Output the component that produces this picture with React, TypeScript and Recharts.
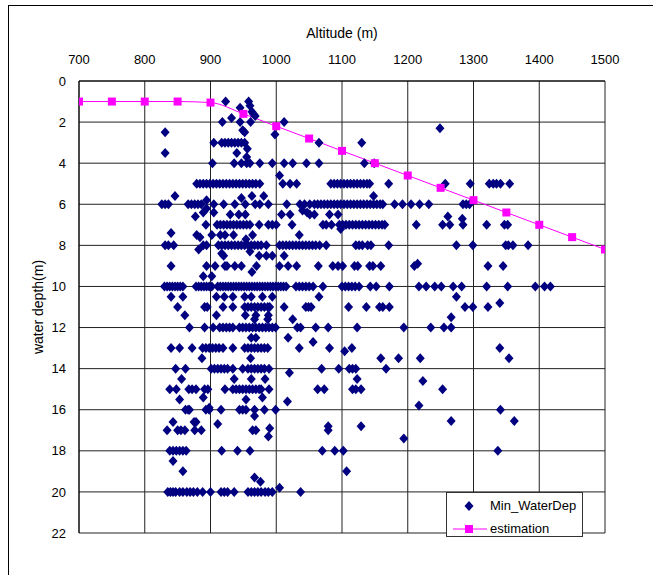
import React from 'react';
import { ComposedChart, Scatter, Line, XAxis, YAxis, CartesianGrid } from 'recharts';

// axis ticks
const xTicks = [700, 800, 900, 1000, 1100, 1200, 1300, 1400, 1500];
const yTicks = [0, 2, 4, 6, 8, 10, 12, 14, 16, 18, 20, 22];

// estimation curve
const estAltitude = [700, 750, 800, 850, 900, 950, 1000, 1050, 1100, 1150, 1200, 1250, 1300, 1350, 1400, 1450, 1500];
const estDepth = [1.0, 1.0, 1.0, 1.0, 1.05, 1.6, 2.2, 2.8, 3.4, 4.0, 4.6, 5.2, 5.8, 6.4, 7.0, 7.6, 8.2];

// Min_WaterDep : altitudes of the points sitting on whole-metre depths
const alt2 = [918, 945, 961, 1012];
const alt3 = [905, 917, 922, 927, 932, 937, 942, 947, 952, 1065, 1130];
const alt4 = [903, 936, 947, 955, 960, 975, 994, 1012, 1025, 1046, 1065, 1134, 1149];
const alt5 = [879, 884, 889, 894, 899, 904, 909, 914, 919, 924, 929, 934, 939, 944, 949, 954, 959, 964, 969, 975,
  1010, 1021, 1031, 1083, 1088, 1093, 1098, 1103, 1108, 1113, 1118, 1123, 1128, 1133, 1138, 1142, 1171, 1257, 1295,
  1324, 1330, 1335, 1341, 1355];
const alt6 = [826, 831, 836, 866, 871, 876, 881, 886, 905, 920, 937, 953, 968, 975, 988, 1016, 1036, 1043, 1051, 1058,
  1063, 1068, 1073, 1078, 1083, 1088, 1093, 1098, 1103, 1108, 1113, 1118, 1123, 1128, 1133, 1138, 1143, 1148, 1153,
  1158, 1162, 1180, 1192, 1205, 1218, 1232, 1284, 1289, 1294];
const alt7 = [893, 910, 915, 920, 925, 930, 935, 940, 945, 950, 955, 960, 974, 988, 994, 1000, 1024, 1071, 1076, 1084,
  1096, 1101, 1106, 1111, 1116, 1121, 1126, 1131, 1136, 1141, 1146, 1151, 1156, 1161, 1165, 1213, 1253, 1264, 1284,
  1320, 1347, 1352];
const alt8 = [831, 836, 844, 889, 894, 912, 917, 922, 927, 932, 937, 942, 947, 952, 957, 962, 967, 972, 977, 985, 1005,
  1010, 1015, 1020, 1025, 1030, 1035, 1040, 1045, 1050, 1055, 1060, 1066, 1076, 1121, 1126, 1131, 1139, 1144, 1171,
  1274, 1299, 1349, 1353, 1360, 1383];
const alt9 = [840, 894, 907, 922, 925, 937, 947, 970, 1005, 1018, 1031, 1064, 1086, 1094, 1101, 1119, 1124, 1142, 1147,
  1159, 1322, 1345];
const alt10 = [830, 834, 838, 842, 846, 850, 854, 858, 878, 882, 886, 890, 894, 898, 902, 911, 915, 919, 923, 927, 931,
  935, 939, 943, 947, 951, 955, 959, 963, 967, 971, 975, 979, 983, 987, 991, 995, 999, 1003, 1007, 1011, 1015, 1030,
  1035, 1040, 1045, 1050, 1056, 1071, 1100, 1105, 1110, 1115, 1120, 1126, 1143, 1152, 1172, 1217, 1228, 1241, 1251,
  1269, 1282, 1320, 1352, 1394, 1408, 1417];
const alt11 = [850, 891, 895, 919, 934, 952, 957, 962, 967, 972, 977, 982, 987, 990, 1012, 1045, 1049, 1053, 1110, 1137,
  1157, 1162, 1172, 1287, 1299, 1322];
const alt12 = [868, 891, 904, 914, 919, 924, 929, 934, 944, 949, 954, 959, 964, 969, 974, 979, 984, 989, 994, 999, 1032,
  1037, 1060, 1079, 1123, 1194, 1235, 1255, 1266];
const alt13 = [840, 853, 872, 888, 893, 898, 903, 908, 913, 919, 934, 952, 957, 962, 967, 972, 977, 982, 987, 1035, 1081,
  1115, 1340];
const alt14 = [847, 862, 901, 906, 911, 916, 921, 926, 934, 949, 957, 962, 967, 972, 977, 982, 989, 1069, 1095, 1111,
  1116, 1121, 1167];
const alt15 = [838, 848, 867, 872, 878, 891, 896, 922, 934, 939, 944, 949, 954, 959, 964, 969, 974, 977, 989, 1063, 1073,
  1116, 1121, 1129, 1253];
const alt16 = [862, 866, 868, 893, 898, 916, 944, 949, 954, 967, 982, 999, 1341];
const alt17 = [834, 850, 855, 861, 876, 886, 964, 969, 1079];
const alt18 = [838, 843, 848, 853, 858, 863, 917, 941, 960, 1070, 1089, 1102, 1337];
const alt20 = [835, 839, 843, 847, 853, 858, 864, 869, 874, 880, 888, 900, 916, 921, 926, 936, 957, 962, 967, 972, 977,
  983, 988, 994, 1037];

// Min_WaterDep : the points between the whole metres, [altitude, depth]
const otherPoints: [number, number][] = [
  [923, 1.0], [958, 1.0], [945, 1.3], [960, 1.2], [963, 1.5], [965, 1.6], [968, 1.7], [932, 1.8], [949, 2.4], [952, 2.5],
  [998, 2.6], [831, 2.5], [1249, 2.3], [831, 3.5], [940, 3.5], [956, 3.3], [955, 3.7], [1005, 4.6], [846, 5.6],
  [963, 5.6], [981, 5.6], [947, 5.7], [894, 5.8], [1148, 5.6], [894, 6.2], [905, 6.4], [889, 6.4], [877, 6.6],
  [930, 6.5], [943, 6.5], [953, 6.5], [1008, 6.5], [1021, 6.5], [1040, 6.3], [1047, 6.4], [1051, 6.5], [1058, 6.5],
  [1081, 6.5], [1094, 6.5], [1261, 6.6], [1283, 6.7], [1098, 7.2], [840, 7.4], [879, 7.5], [884, 7.6], [902, 7.5],
  [915, 7.5], [922, 7.5], [935, 7.5], [954, 7.7], [964, 7.5], [1035, 7.5], [882, 8.2], [917, 8.4], [920, 8.5],
  [960, 8.3], [974, 8.5], [985, 8.5], [994, 8.5], [1012, 8.5], [1210, 9.0], [1215, 8.9], [889, 9.5], [902, 9.5],
  [963, 9.3], [840, 10.5], [858, 10.5], [909, 10.5], [921, 10.5], [934, 10.5], [952, 10.5], [962, 10.5], [979, 10.5],
  [994, 10.5], [1065, 10.5], [1274, 10.5], [1340, 10.8], [861, 11.4], [909, 11.4], [953, 11.4], [969, 11.4],
  [988, 11.4], [1025, 11.6], [967, 11.6], [987, 11.6], [1266, 11.5], [962, 12.5], [969, 12.5], [1018, 12.5],
  [1056, 12.7], [1104, 13.15], [887, 13.5], [961, 13.5], [1159, 13.5], [1186, 13.5], [1219, 13.5], [1354, 13.5],
  [1020, 14.2], [856, 14.5], [936, 14.5], [962, 14.5], [983, 14.5], [1123, 14.5], [1223, 14.6], [853, 15.5],
  [889, 15.4], [954, 15.5], [979, 15.4], [1017, 15.6], [1217, 15.8], [898, 15.9], [967, 16.3], [843, 16.6],
  [875, 16.6], [878, 16.6], [911, 16.7], [1266, 16.55], [1362, 16.55], [1079, 16.8], [1129, 16.8], [988, 17.3],
  [990, 16.9], [1194, 17.4], [843, 18.5], [858, 19.0], [1107, 19.0], [967, 19.3], [976, 19.5], [1005, 19.8],
];

const rows: [number, number[]][] = [
  [2, alt2], [3, alt3], [4, alt4], [5, alt5], [6, alt6], [7, alt7], [8, alt8], [9, alt9], [10, alt10],
  [11, alt11], [12, alt12], [13, alt13], [14, alt14], [15, alt15], [16, alt16], [17, alt17], [18, alt18], [20, alt20],
];

const scatterData = [
  ...rows.flatMap(([d, alts]) => alts.map((a) => ({ alt: a, depth: d }))),
  ...otherPoints.map(([a, d]) => ({ alt: a, depth: d })),
];
const estData = estAltitude.map((a, i) => ({ alt: a, depth: estDepth[i] }));

const NAVY = '#000080';
const PINK = '#FF00FF';
const FONT = '"Liberation Sans", Arial, sans-serif';

// 마름모 마커
const Diamond = (props: any) => {
  const { cx, cy } = props;
  if (cx == null || cy == null) return null;
  return (
    <polygon
      points={`${cx},${cy - 5} ${cx + 4.5},${cy} ${cx},${cy + 5} ${cx - 4.5},${cy}`}
      fill={NAVY}
    />
  );
};

// 사각형 마커
const Square = (props: any) => {
  const { cx, cy, index } = props;
  return <rect key={`sq-${index}`} x={cx - 4} y={cy - 4} width={8} height={8} fill={PINK} />;
};

const App = () => {
  return (
    <div
      style={{
        position: 'absolute',
        left: 0,
        top: 0,
        width: 653,
        height: 575,
        overflow: 'hidden',
        background: '#fff',
        fontFamily: FONT,
      }}
    >
      {/* outer chart frame */}
      <div
        style={{
          position: 'absolute',
          left: 8,
          top: 5,
          width: 700,
          height: 700,
          border: '1px solid #000',
        }}
      />

      <ComposedChart
        width={653}
        height={575}
        margin={{ top: 51, right: 48, bottom: 42, left: 39 }}
        style={{ position: 'absolute', left: 0, top: 0 }}
      >
        <CartesianGrid stroke="#222" horizontal vertical />
        <XAxis
          type="number"
          dataKey="alt"
          orientation="top"
          height={30}
          domain={[700, 1500]}
          ticks={xTicks}
          allowDataOverflow
          tickLine={false}
          tickSize={6}
          tickMargin={11}
          axisLine={{ stroke: '#000' }}
          tick={{ fontSize: 13, fill: '#000', fontFamily: FONT }}
        />
        <YAxis
          type="number"
          dataKey="depth"
          reversed
          width={40}
          domain={[0, 22]}
          ticks={yTicks}
          allowDataOverflow
          tickLine={false}
          tickSize={6}
          tickMargin={7}
          axisLine={{ stroke: '#000' }}
          tick={{ fontSize: 13, fill: '#000', fontFamily: FONT }}
        />
        <Scatter
          name="Min_WaterDep"
          data={scatterData}
          dataKey="depth"
          shape={<Diamond />}
          isAnimationActive={false}
        />
        <Line
          name="estimation"
          data={estData}
          dataKey="depth"
          type="monotone"
          stroke={PINK}
          strokeWidth={1}
          dot={<Square />}
          activeDot={false}
          isAnimationActive={false}
        />
      </ComposedChart>

      {/* axis titles */}
      <div
        style={{
          position: 'absolute',
          left: 242,
          top: 24,
          width: 200,
          textAlign: 'center',
          fontSize: 14,
          lineHeight: '18px',
        }}
      >
        Altitude (m)
      </div>
      <div
        style={{
          position: 'absolute',
          left: 38 - 100,
          top: 307 - 9,
          width: 200,
          height: 18,
          textAlign: 'center',
          fontSize: 14,
          lineHeight: '18px',
          transform: 'rotate(-90deg)',
        }}
      >
        water depth(m)
      </div>

      {/* legend */}
      <div
        style={{
          position: 'absolute',
          left: 446,
          top: 492,
          width: 137,
          height: 45,
          boxSizing: 'border-box',
          border: '1px solid #333',
          background: '#fff',
          fontSize: 13,
        }}
      >
        <svg width={40} height={45} style={{ position: 'absolute', left: 0, top: 0 }}>
          <polygon points="22,8 26.5,13 22,18 17.5,13" fill={NAVY} />
          <line x1={6} y1={36} x2={40} y2={36} stroke={PINK} strokeWidth={1} />
          <rect x={18} y={32} width={8} height={8} fill={PINK} />
        </svg>
        <div style={{ position: 'absolute', left: 43, top: 4, lineHeight: '18px' }}>Min_WaterDep</div>
        <div style={{ position: 'absolute', left: 43, top: 27, lineHeight: '18px' }}>estimation</div>
      </div>
    </div>
  );
};

export default App;
